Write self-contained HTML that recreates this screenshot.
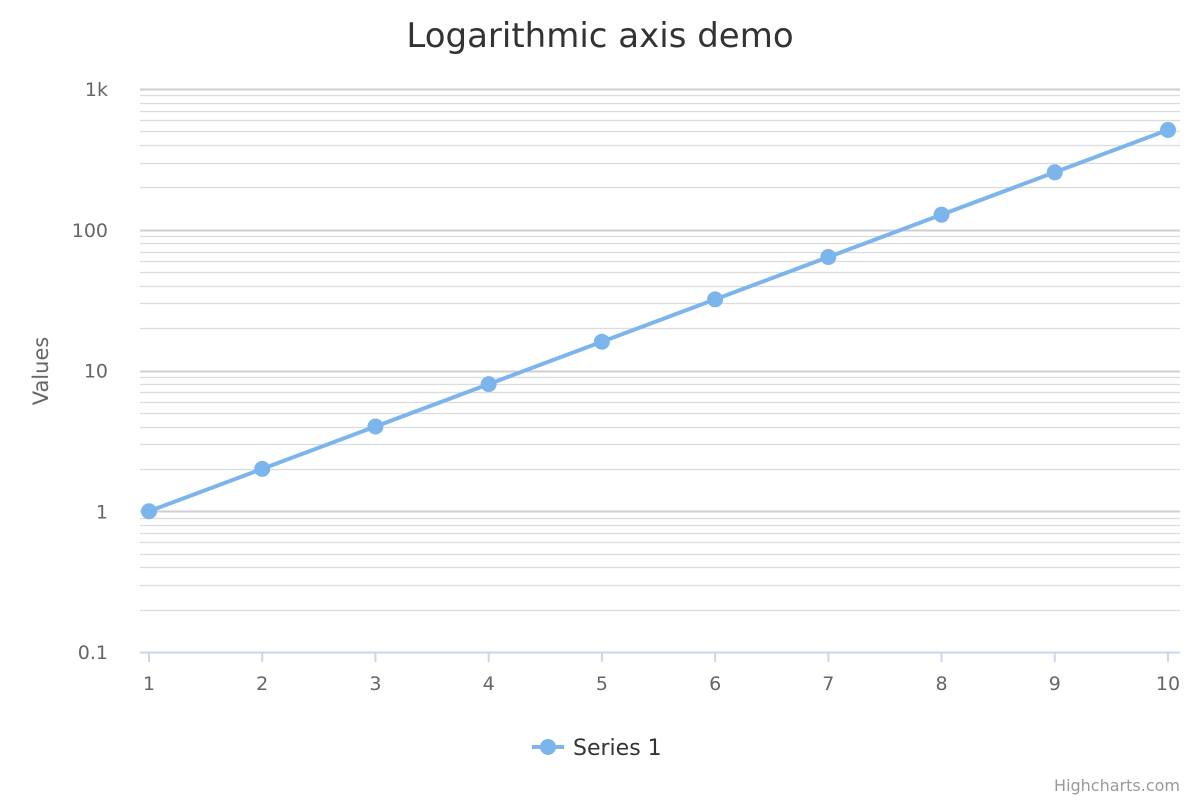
<!DOCTYPE html>
<html><head><meta charset="utf-8"><style>
body{margin:0;background:#fff;font-family:"DejaVu Sans","Liberation Sans",sans-serif}
</style></head><body>
<svg id="chart" width="1200" height="800" xmlns="http://www.w3.org/2000/svg">
<rect width="1200" height="800" fill="#fff"/>
<text x="600" y="47" text-anchor="middle" font-size="34" fill="#333">Logarithmic axis demo</text>
<g id="grid"></g>
<g id="yticks"></g>
<g id="xticks"></g>
<text transform="translate(48,371) rotate(-90)" text-anchor="middle" font-size="21" fill="#666">Values</text>
<g id="series"></g>
<g>
<line x1="532" y1="747" x2="564" y2="747" stroke="#7cb5ec" stroke-width="4"/>
<circle cx="548" cy="747" r="8" fill="#7cb5ec"/>
<text x="573" y="755" font-size="22" fill="#333">Series 1</text>
</g>
<text x="1180" y="791" text-anchor="end" font-size="16" fill="#999">Highcharts.com</text>
</svg>
<script>
const categories=[1,2,3,4,5,6,7,8,9,10];
const values=[1,2,4,8,16,32,64,128,256,512];
const yTickValues=[0.1,1,10,100,1000];
const yTickLabels=["0.1","1","10","100","1k"];
const NS="http://www.w3.org/2000/svg";
const left=140,right=1180,x0=149,x1=1168;
const yTop=89,yBot=652;
function xs(v){return x0+(v-1)/9*(x1-x0);}
function ys(v){return yBot-(Math.log10(v)+1)/4*(yBot-yTop);}
function mk(t,a,p){const e=document.createElementNS(NS,t);for(const k in a)e.setAttribute(k,a[k]);(p||document.getElementById('chart')).appendChild(e);return e;}
const grid=document.getElementById('grid');
for(let d=-1;d<3;d++){for(let m=1;m<=10;m++){const v=m*Math.pow(10,d);const y=Math.round(ys(v))+0.5;
const l=mk('line',{x1:left,x2:right,y1:y,y2:y,stroke:m==1||m==10?'#cfcfcf':'#dcdcdc','stroke-width':m==1||m==10?2:1.3},grid);

}}
const yt=document.getElementById('yticks');
yTickValues.forEach((v,i)=>{const t=mk('text',{x:108,y:ys(v)+7,'text-anchor':'end','font-size':19,fill:'#666'},yt);t.textContent=yTickLabels[i];

});
const xt=document.getElementById('xticks');
const ax=mk('line',{x1:left,x2:right,y1:yBot+0.5,y2:yBot+0.5,stroke:'#ccd6eb','stroke-width':2},xt);


categories.forEach(c=>{const x=xs(c);
const tk=mk('line',{x1:x,x2:x,y1:yBot,y2:yBot+10,stroke:'#ccd6eb','stroke-width':2},xt);


const t=mk('text',{x:x,y:690,'text-anchor':'middle','font-size':19,fill:'#666'},xt);t.textContent=c;

});
const s=document.getElementById('series');
const pl=mk('polyline',{points:categories.map((c,i)=>xs(c)+','+ys(values[i])).join(' '),fill:'none',stroke:'#7cb5ec','stroke-width':4},s);


categories.forEach((c,i)=>{const p=mk('circle',{cx:xs(c),cy:ys(values[i]),r:8,fill:'#7cb5ec'},s);

});
</script>
</body></html>
